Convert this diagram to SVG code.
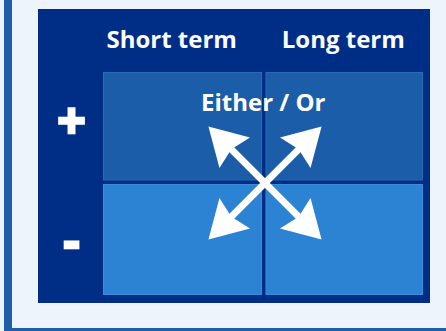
<svg xmlns="http://www.w3.org/2000/svg" width="446" height="331" viewBox="0 0 446 331">
<style>
.lbl{font-family:"Open Sans","Liberation Sans",sans-serif;font-weight:700;fill:#ffffff;text-anchor:middle}
.hdr{font-size:24px}
.sign{font-size:50px;stroke:#ffffff;stroke-width:2.5px;stroke-linejoin:miter}
.top{fill:#1b5da9;stroke:#2a6bb4;stroke-width:1}
.bot{fill:#2c82d3;stroke:#3b8cd9;stroke-width:1}
.arr{stroke:#ffffff;stroke-width:7;fill:none;marker-start:url(#head);marker-end:url(#head)}
</style>
<defs>
<marker id="head" markerUnits="userSpaceOnUse" orient="auto-start-reverse" markerWidth="60" markerHeight="60" refX="0" refY="0" viewBox="-20 -25 50 50" overflow="visible">
<path d="M20,0 L-11,-18 L-7,0 L-11,18 Z" fill="#ffffff"/>
</marker>
</defs>
<rect x="0" y="0" width="446" height="331" fill="#edf4fc"/>
<rect x="8" y="-10" width="450" height="342" fill="none" stroke="#1e5fa8" stroke-width="8"/>
<g id="panel">
<rect x="38" y="9" width="392" height="294" fill="#002d85"/>
</g>
<g id="header-short"><text class="lbl hdr" x="171.7" y="48">Short term</text></g>
<g id="header-long"><text class="lbl hdr" x="343.3" y="48">Long term</text></g>
<g id="cell-plus-short"><rect class="top" x="103.5" y="72.5" width="158" height="107.5"/></g>
<g id="cell-plus-long"><rect class="top" x="266" y="72.5" width="156.5" height="107.5"/></g>
<g id="cell-minus-short"><rect class="bot" x="103.5" y="184.5" width="158" height="110"/></g>
<g id="cell-minus-long"><rect class="bot" x="266" y="184.5" width="156.5" height="110"/></g>
<g id="row-plus"><text class="lbl sign" x="71.5" y="139">+</text></g>
<g id="row-minus"><text class="lbl sign" x="71.5" y="257.5">-</text></g>
<g id="either-or"><text class="lbl hdr" x="263.3" y="110.7">Either / Or</text></g>
<g id="connectors">
<line class="arr" x1="225.4" y1="143.4" x2="304.6" y2="222.6"/>
<line class="arr" x1="225.4" y1="222.6" x2="304.6" y2="143.4"/>
</g>
</svg>
